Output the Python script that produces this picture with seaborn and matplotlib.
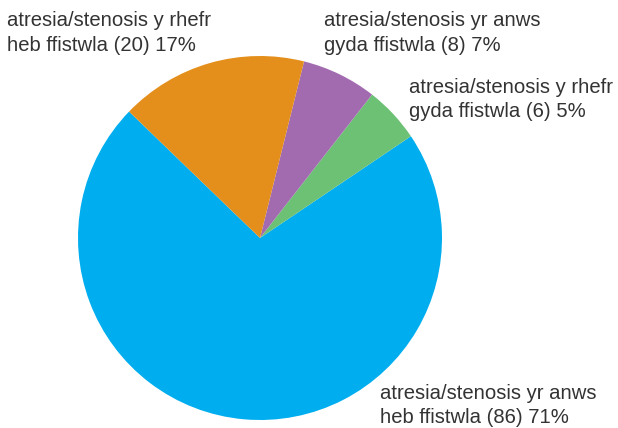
import matplotlib
matplotlib.use("Agg")
import matplotlib.pyplot as plt
import seaborn as sns

categories = [
    "atresia/stenosis yr anws\nheb ffistwla",
    "atresia/stenosis y rhefr\ngyda ffistwla",
    "atresia/stenosis yr anws\ngyda ffistwla",
    "atresia/stenosis y rhefr\nheb ffistwla",
]
counts = [86, 6, 8, 20]
percents = [71, 5, 7, 17]
colors = ["#00AEEF", "#6CC174", "#A26BB0", "#E48F1B"]

sns.set_style("white")
plt.rcParams["font.family"] = ["Liberation Sans", "DejaVu Sans"]

W, H = 618, 428
fig = plt.figure(figsize=(W / 100, H / 100), dpi=100)
cx, cy, r = 260, 238, 182
ax = fig.add_axes([(cx - r) / W, (H - cy - r) / H, 2 * r / W, 2 * r / H])
ax.pie(counts, colors=colors, startangle=136, counterclock=True,
       wedgeprops=dict(linewidth=0))
ax.set_xlim(-1, 1)
ax.set_ylim(-1, 1)
ax.set_aspect("equal")
ax.axis("off")

# label positions in pixels (left, first-line baseline)
label_pos = [(380, 399), (409, 93), (324, 26.5), (7, 26.5)]
line_gap = 24.3
for cat, n, p, (lx, ly) in zip(categories, counts, percents, label_pos):
    lines = f"{cat} ({n}) {p}%".split("\n")
    for i, line in enumerate(lines):
        fig.text(lx / W, 1 - (ly + i * line_gap) / H, line, ha="left",
                 va="baseline", fontsize=14.6, color="#333333")

fig.savefig("out.png", dpi=100)
